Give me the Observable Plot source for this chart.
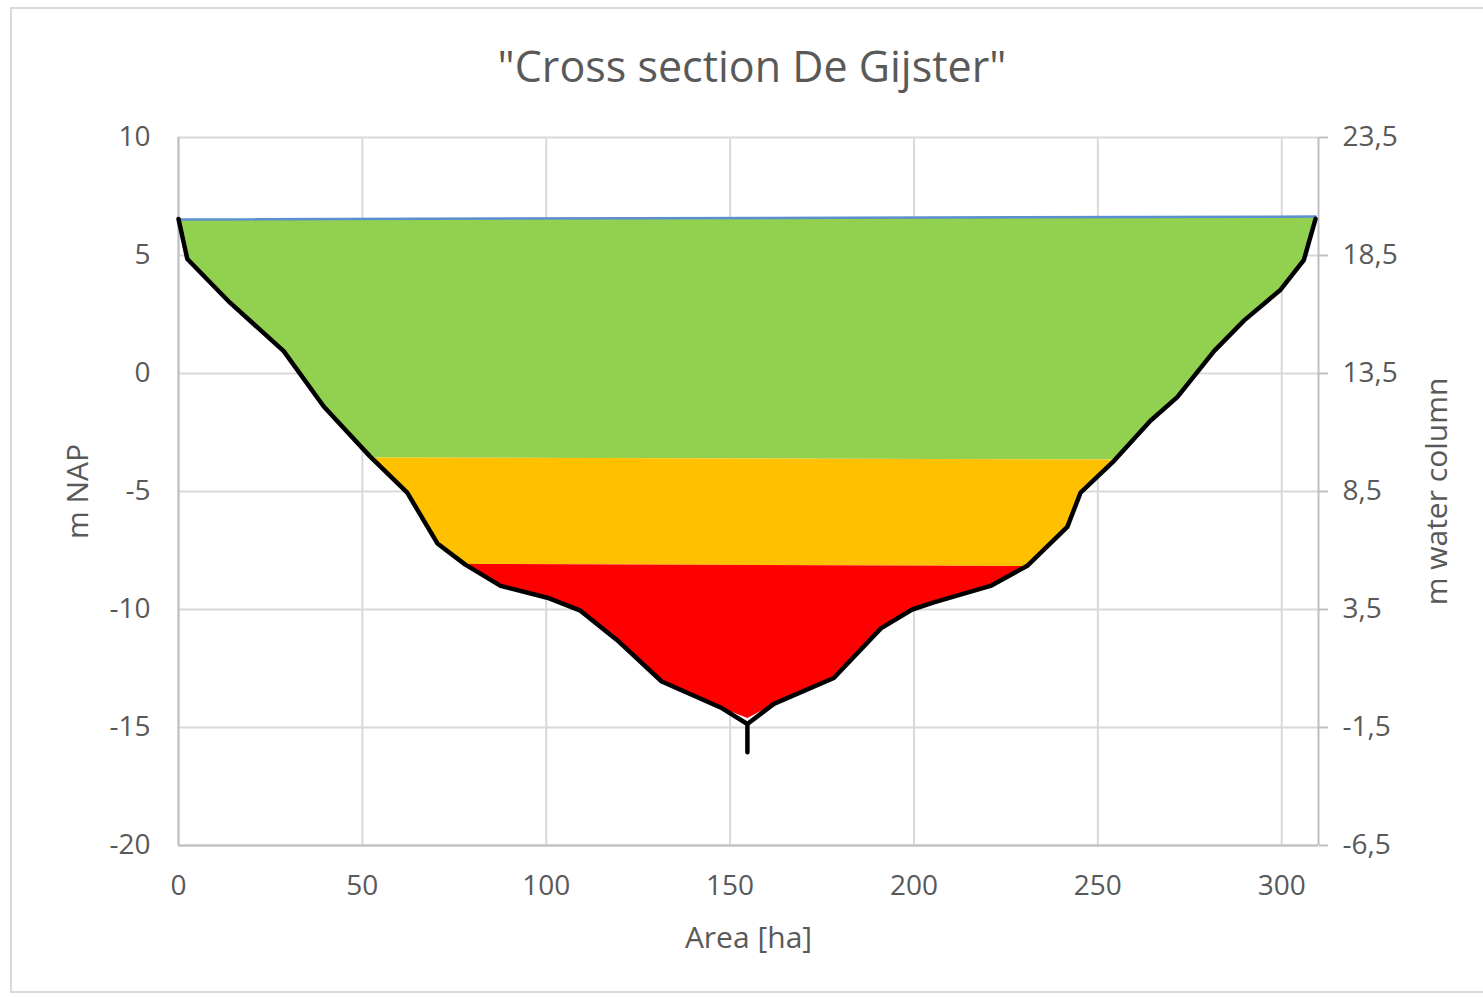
<!DOCTYPE html>
<html>
<head>
<meta charset="utf-8">
<script src="https://cdn.jsdelivr.net/npm/d3@7"></script>
<script src="https://cdn.jsdelivr.net/npm/@observablehq/plot@0.6"></script>
<style>
  html, body { margin: 0; padding: 0; background: #fff; width: 1483px; height: 997px; overflow: hidden; }
  #frame { position: absolute; left: 10px; top: 7px; width: 1500px; height: 986px; box-sizing: border-box; border: 2px solid #d9d9d9; }
  #title { position: absolute; left: 0; top: 43px; width: 1504px; text-align: center; font-family: "Open Sans", sans-serif; font-size: 43px; line-height: 46px; color: #595959; }
  #chart { position: absolute; left: 0; top: 100px; }
</style>
</head>
<body>
<div id="frame"></div>
<div id="title">"Cross section De Gijster"</div>
<div id="chart"></div>
<script>
// ---- data ----
const xTicks = [0, 50, 100, 150, 200, 250, 300];
const yTicks = [-20, -15, -10, -5, 0, 5, 10];
const rightTickLabels = ["-6,5", "-1,5", "3,5", "8,5", "13,5", "18,5", "23,5"];

// cross-section profile (area [ha], m NAP), drawn as one black line
const profileArea = [0, 2.4, 14, 28.6, 39.5, 52, 62.2, 70.4, 78, 87.6, 100.3, 109.3, 119.3, 131.4, 147.4, 154.7, 154.7, 154.7,
  161.9, 178.2, 191, 199.5, 205.4, 220.8, 230.8, 241.7, 245.3, 254.4, 264.3, 271.6, 281.6, 289.8, 299.7, 306, 309.2];
const profileNAP = [6.55, 4.85, 3.0, 0.95, -1.4, -3.5, -5.05, -7.2, -8.1, -9.0, -9.5, -10.05, -11.3, -13.05, -14.15, -14.85, -16.05, -14.85,
  -14.0, -12.9, -10.8, -10.0, -9.7, -9.0, -8.15, -6.5, -5.05, -3.7, -2.0, -1.0, 0.95, 2.25, 3.55, 4.8, 6.55];

// water level line
const levelArea = [0, 309.2];
const levelNAP = [6.53, 6.65];

// green band polygon
const greenArea = [0, 309.2, 306, 299.7, 289.8, 281.6, 271.6, 264.3, 254, 52.2, 39.5, 28.6, 14, 2.4];
const greenNAP  = [6.53, 6.65, 4.8, 3.55, 2.25, 0.95, -1.0, -2.0, -3.64, -3.56, -1.4, 0.95, 3.0, 4.85];
// orange band polygon
const orangeArea = [52.2, 254, 245.3, 241.7, 230.8, 78, 70.4, 62.2];
const orangeNAP  = [-3.56, -3.64, -5.05, -6.5, -8.16, -8.07, -7.2, -5.05];
// red band polygon
const redArea = [78, 230.8, 220.8, 205.4, 199.5, 191, 178.2, 161.9, 154.7, 147.4, 131.4, 119.3, 109.3, 100.3, 87.6];
const redNAP  = [-8.07, -8.16, -9.0, -9.7, -10.0, -10.8, -12.9, -14.0, -14.6, -14.15, -13.05, -11.3, -10.05, -9.5, -9.0];

const zip = (xs, ys) => xs.map((x, i) => ({x, y: ys[i]}));
const profile = zip(profileArea, profileNAP);
const level = zip(levelArea, levelNAP);
const green = zip(greenArea, greenNAP);
const orange = zip(orangeArea, orangeNAP);
const red = zip(redArea, redNAP);

const axisGray = "#bfbfbf";
const gridGray = "#d9d9d9";
const textGray = "#595959";

const chart = Plot.plot({
  width: 1483,
  height: 897,
  marginLeft: 178,
  marginRight: 165,
  marginTop: 37,
  marginBottom: 152,
  x: {domain: [0, 310]},
  y: {domain: [-20, 10]},
  style: {fontFamily: "'Open Sans', sans-serif", fontSize: "28px", background: "transparent", color: textGray},
  marks: [
    Plot.gridX(xTicks, {stroke: gridGray, strokeOpacity: 1, strokeWidth: 2}),
    Plot.gridY(yTicks, {stroke: gridGray, strokeOpacity: 1, strokeWidth: 2}),
    Plot.ruleX([0, 310], {stroke: axisGray, strokeWidth: 2}),
    Plot.ruleY([-20], {stroke: axisGray, strokeWidth: 2}),
    Plot.axisX(xTicks, {tickSize: 0, tickPadding: 30, fill: textGray, label: null, tickFormat: d => String(d)}),
    Plot.axisY(yTicks, {anchor: "left", tickSize: 0, tickPadding: 28, fill: textGray, label: null, tickFormat: d => String(d)}),
    Plot.axisY(yTicks, {anchor: "right", tickSize: 9, tickPadding: 15, stroke: axisGray, strokeWidth: 2, fill: textGray, label: null,
      tickFormat: d => rightTickLabels[yTicks.indexOf(d)]}),
    Plot.line(green, {x: "x", y: "y", fill: "#92d050", stroke: "none"}),
    Plot.line(orange, {x: "x", y: "y", fill: "#ffc000", stroke: "none"}),
    Plot.line(red, {x: "x", y: "y", fill: "#ff0000", stroke: "none"}),
    Plot.line(level, {x: "x", y: "y", stroke: "#5b8fd0", strokeWidth: 2.5}),
    Plot.line(profile, {x: "x", y: "y", stroke: "#000", strokeWidth: 4.5, strokeLinejoin: "round"}),
    Plot.text(["Area [ha]"], {frameAnchor: "bottom", dy: 93, fontSize: 30, fill: textGray, textAnchor: "middle", lineAnchor: "middle"}),
    Plot.text(["m NAP"], {frameAnchor: "left", dx: -100, rotate: -90, fontSize: 30, fill: textGray, textAnchor: "middle", lineAnchor: "middle"}),
    Plot.text(["m water column"], {frameAnchor: "right", dx: 119, rotate: -90, fontSize: 30, fill: textGray, textAnchor: "middle", lineAnchor: "middle"})
  ]
});
document.getElementById("chart").appendChild(chart);
</script>
</body>
</html>
